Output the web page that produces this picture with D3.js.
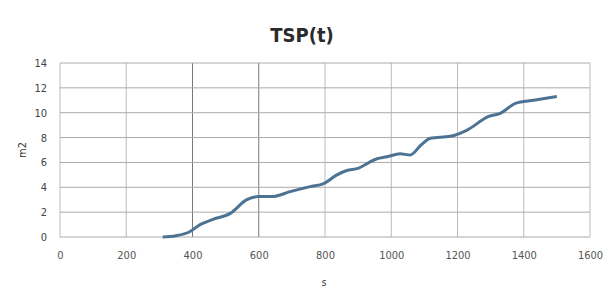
<html>
<head>
<script src="https://d3js.org/d3.v7.min.js"></script>
<style>
  body { margin: 0; background: #fff; }
  svg text { font-family: "DejaVu Sans Condensed", "Liberation Sans Narrow", sans-serif; fill: #333; }
</style>
</head>
<body>
<svg id="chart" width="608" height="294"></svg>
<script>
// TSP(t) readings, seconds vs m2
const times = [310, 350, 390, 423, 460, 514, 564, 599, 640, 695, 755, 796, 836, 866, 896, 957, 987, 1027, 1057, 1090, 1118, 1178, 1229, 1294, 1329, 1375, 1430, 1500];
const areas = [0, 0.1, 0.4, 1.0, 1.4, 1.9, 3.0, 3.25, 3.25, 3.65, 4.05, 4.3, 5.0, 5.35, 5.5, 6.3, 6.45, 6.7, 6.6, 7.4, 7.94, 8.1, 8.6, 9.7, 9.95, 10.75, 11.0, 11.3];
const xTicks = [0, 200, 400, 600, 800, 1000, 1200, 1400, 1600];
const yTicks = [0, 2, 4, 6, 8, 10, 12, 14];

const svg = d3.select("#chart");
const x = d3.scaleLinear().domain([0, 1600]).range([60, 590]);
const y = d3.scaleLinear().domain([0, 14]).range([237, 63]);

// grid
svg.append("g").selectAll("line")
  .data(xTicks).join("line")
  .attr("x1", d => x(d)).attr("x2", d => x(d))
  .attr("y1", y(14)).attr("y2", y(0))
  .attr("stroke", d => (d === 400 || d === 600) ? "#777" : "#bbb")
  .attr("stroke-width", 1);

svg.append("g").selectAll("line")
  .data(yTicks).join("line")
  .attr("x1", x(0)).attr("x2", x(1600))
  .attr("y1", d => y(d)).attr("y2", d => y(d))
  .attr("stroke", "#aaa")
  .attr("stroke-width", 1);

// tick labels
svg.append("g")
  .attr("transform", `translate(0,${y(0)})`)
  .call(d3.axisBottom(x).tickValues(xTicks).tickSize(0).tickPadding(14).tickFormat(d3.format("d")))
  .call(g => g.select(".domain").remove())
  .call(g => g.selectAll("text").attr("font-size", 11).style("fill", "#555"));

svg.append("g")
  .attr("transform", `translate(${x(0)},0)`)
  .call(d3.axisLeft(y).tickValues(yTicks).tickSize(0).tickPadding(13))
  .call(g => g.select(".domain").remove())
  .call(g => g.selectAll("text").attr("font-size", 11).style("fill", "#444"));

// line
const pts = times.map((t, i) => [t, areas[i]]);
svg.append("path")
  .datum(pts)
  .attr("fill", "none")
  .attr("stroke", "#4d7394")
  .attr("stroke-width", 3)
  .attr("stroke-linejoin", "round")
  .attr("d", d3.line().x(d => x(d[0])).y(d => y(d[1])).curve(d3.curveMonotoneX));

// title and axis titles
svg.append("text")
  .attr("x", 302).attr("y", 42)
  .attr("text-anchor", "middle")
  .attr("font-size", 20)
  .attr("font-weight", "bold")
  .style("fill", "#2a2a2a")
  .text("TSP(t)");

svg.append("text")
  .attr("x", 324).attr("y", 286)
  .attr("text-anchor", "middle")
  .attr("font-size", 10)
  .text("s");

svg.append("text")
  .attr("transform", "translate(26,150) rotate(-90)")
  .attr("text-anchor", "middle")
  .attr("font-size", 11)
  .text("m2");
</script>
</body>
</html>
